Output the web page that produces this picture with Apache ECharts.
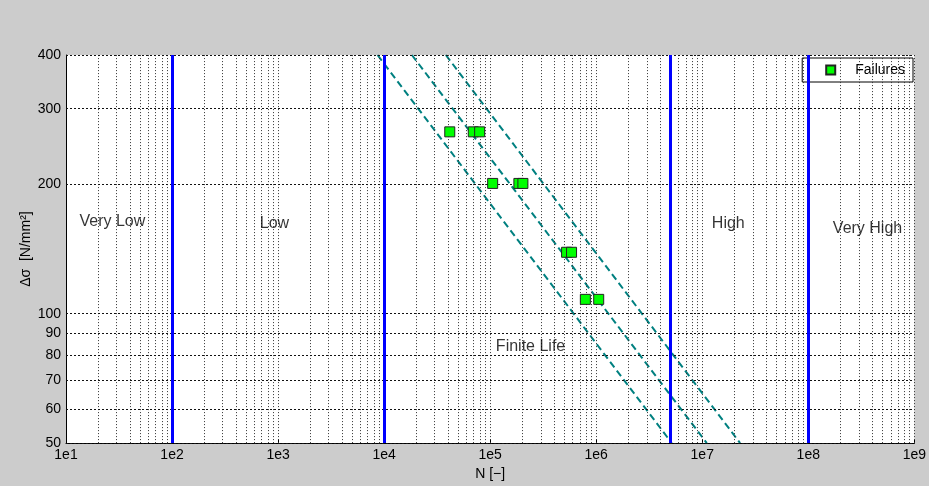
<!DOCTYPE html>
<html>
<head>
<meta charset="utf-8">
<title>S-N failures</title>
<script src="https://cdn.jsdelivr.net/npm/echarts@6/dist/echarts.min.js"></script>
<style>
  html, body { margin: 0; padding: 0; background: #cccccc; }
  #chart { width: 929px; height: 486px; }
</style>
</head>
<body>
<div id="chart"></div>
<script>
// test results (cycles, stress range)
var failN = [41600, 69300, 79600, 105600, 186600, 203600, 525600, 585600, 790000, 1056000];
var failS = [265, 265, 265, 201, 201, 201, 139, 139, 108, 108];

// three dashed S-N curves, given by their ends at 400 and 50 N/mm2
var curveS = [400, 50];
var curveN = [
    [8670, 5160000],
    [18280, 11040000],
    [38200, 22750000]
];

// region borders
var borderN = [1e2, 1e4, 5e6, 1e8];

// region texts
var regionText = ['Very Low', 'Low', 'Finite Life', 'High', 'Very High'];
var regionN = [27.4, 925, 240400, 1.76e7, 3.62e8];
var regionS = [164, 162, 84, 162, 158];

// grid lines
var yGrid = [50, 60, 70, 80, 90, 100, 200, 300, 400];
var xGrid = [];
for (var e = 1; e <= 8; e++) {
    for (var k = 1; k <= 9; k++) {
        var v = k * Math.pow(10, e);
        if (v > 10) xGrid.push(v);
    }
}
xGrid.push(1e9);

var font = 'Liberation Sans, Arial, Helvetica, sans-serif';

var chart = echarts.init(document.getElementById('chart'));

var series = [];

// vertical dotted grid
series.push({
    type: 'line', data: [], silent: true,
    markLine: {
        silent: true, symbol: 'none', animation: false,
        label: { show: false },
        lineStyle: { color: '#333', width: 1, type: [1, 2] },
        data: xGrid.map(function (v) { return { xAxis: v }; })
    }
});

// horizontal dotted grid with the y labels
series.push({
    type: 'line', data: [], silent: true,
    markLine: {
        silent: true, symbol: 'none', animation: false,
        label: {
            show: true, position: 'start', distance: 5,
            color: '#000', fontSize: 14, fontFamily: font,
            formatter: function (p) { return p.value; }
        },
        lineStyle: { color: '#111', width: 1, type: [2, 2] },
        data: yGrid.map(function (v) { return { yAxis: v }; })
    }
});

// blue region borders
series.push({
    type: 'line', data: [], silent: true, z: 3,
    markLine: {
        silent: true, symbol: 'none', animation: false,
        label: { show: false },
        lineStyle: { color: '#0000ff', width: 3, type: 'solid' },
        data: borderN.map(function (v) { return { xAxis: v }; })
    }
});

// dashed curves
curveN.forEach(function (c) {
    series.push({
        type: 'line', silent: true, symbol: 'none', z: 4,
        lineStyle: { color: '#008080', width: 2, type: [7, 4] },
        data: [[c[0], curveS[0]], [c[1], curveS[1]]]
    });
});

// region texts
series.push({
    type: 'scatter', silent: true, symbolSize: 0, z: 5,
    label: {
        show: true, position: 'inside', color: '#000',
        fontSize: 16, fontFamily: font,
        formatter: function (p) { return p.name; }
    },
    data: regionText.map(function (t, i) {
        return { name: t, value: [regionN[i], regionS[i]] };
    })
});

// failures
series.push({
    name: 'Failures', type: 'scatter', symbol: 'rect', symbolSize: 10, z: 6,
    itemStyle: { color: '#00ff00', borderColor: '#222', borderWidth: 1, opacity: 1 },
    data: failN.map(function (n, i) { return [n, failS[i]]; })
});

var option = {
    backgroundColor: '#cccccc',
    animation: false,
    textStyle: { fontFamily: font },
    grid: {
        left: 66, right: 12.5, top: 55, bottom: 42,
        show: true, backgroundColor: '#ffffff', borderWidth: 0
    },
    legend: {
        data: ['Failures'],
        right: 16, top: 58,
        backgroundColor: '#ffffff',
        borderColor: '#000', borderWidth: 1, borderRadius: 0,
        padding: [5, 8, 5, 23],
        itemWidth: 9, itemHeight: 9, icon: 'rect',
        textStyle: { fontSize: 14, color: '#000', fontFamily: font, padding: [0, 0, 0, 15] }
    },
    xAxis: {
        type: 'log', logBase: 10, min: 10, max: 1e9, splitNumber: 8,
        name: 'N [\u2212]', nameLocation: 'middle', nameGap: 23,
        nameTextStyle: { color: '#000', fontSize: 14, fontFamily: font },
        axisLine: { show: true, lineStyle: { color: '#000', width: 1 } },
        axisTick: { show: true, inside: true, length: 4, lineStyle: { color: '#000' } },
        axisLabel: {
            color: '#000', fontSize: 14, fontFamily: font, margin: 5,
            formatter: function (v) { return '1e' + Math.round(Math.log10(v)); }
        },
        splitLine: { show: false },
        minorTick: { show: false }
    },
    yAxis: {
        type: 'log', logBase: 10, min: 50, max: 400,
        name: '\u0394\u03c3  [N/mm\u00b2]', nameLocation: 'middle', nameGap: 33,
        nameTextStyle: { color: '#000', fontSize: 14, fontFamily: font },
        axisLine: { show: true, lineStyle: { color: '#000', width: 1 } },
        axisTick: { show: false },
        axisLabel: { show: false },
        splitLine: { show: false }
    },
    series: series
};

chart.setOption(option);
</script>
</body>
</html>
